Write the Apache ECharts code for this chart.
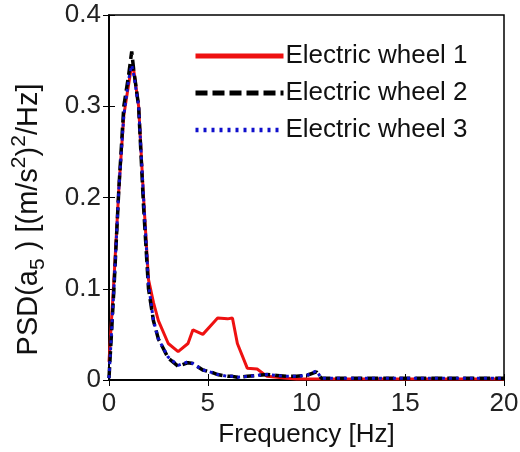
<!DOCTYPE html>
<html>
<head>
<meta charset="utf-8">
<script src="https://cdn.jsdelivr.net/npm/echarts@6/dist/echarts.min.js"></script>
<style>
  html, body { margin: 0; padding: 0; background: #fff; }
  #container { width: 520px; height: 452px; }
</style>
</head>
<body>
<div id="container"></div>
<script>
// frequency grid (Hz)
var freq = [0, 0.25, 0.5, 0.75, 1, 1.15, 1.25, 1.5, 1.75, 2, 2.25, 2.5, 3, 3.5, 4, 4.25, 4.75, 5.25, 5.5, 6, 6.25, 6.5, 7, 7.5, 8, 8.5, 9, 9.5, 10, 10.5, 10.75, 11, 12, 13, 14, 15, 16, 17, 18, 19, 20];

var wheel1 = [0.02, 0.11, 0.21, 0.29, 0.325, 0.345, 0.34, 0.30, 0.2, 0.11, 0.085, 0.065, 0.04, 0.031, 0.04, 0.055, 0.05, 0.062, 0.068, 0.067, 0.068, 0.04, 0.013, 0.012, 0.004, 0.003, 0.002, 0.001, 0.001, 0.001, 0.001, 0.001, 0.001, 0.001, 0.001, 0.001, 0.001, 0.001, 0.001, 0.001, 0.001];
var wheel2 = [0.002, 0.1, 0.21, 0.30, 0.335, 0.36, 0.34, 0.30, 0.19, 0.1, 0.065, 0.045, 0.024, 0.015, 0.019, 0.018, 0.011, 0.008, 0.006, 0.004, 0.004, 0.003, 0.004, 0.005, 0.006, 0.005, 0.004, 0.004, 0.005, 0.009, 0.002, 0.002, 0.002, 0.002, 0.002, 0.002, 0.002, 0.002, 0.002, 0.002, 0.002];
var wheel3 = [0.002, 0.1, 0.21, 0.29, 0.33, 0.345, 0.335, 0.30, 0.2, 0.105, 0.065, 0.045, 0.025, 0.016, 0.02, 0.018, 0.011, 0.008, 0.006, 0.004, 0.004, 0.003, 0.004, 0.005, 0.006, 0.005, 0.004, 0.004, 0.005, 0.01, 0.002, 0.002, 0.002, 0.002, 0.002, 0.002, 0.002, 0.002, 0.002, 0.002, 0.002];

var names = ['Electric wheel 1', 'Electric wheel 2', 'Electric wheel 3'];

function pairs(ys) {
  return freq.map(function (f, i) { return [f, ys[i]]; });
}

var font = 'Liberation Sans, Arial, sans-serif';
var dom = document.getElementById('container');
var myChart = echarts.init(dom);

var option = {
  animation: false,
  textStyle: { fontFamily: font },
  grid: {
    left: 109, right: 16, top: 15, bottom: 72,
    outerBoundsMode: 'none',
    show: true, borderColor: '#000', borderWidth: 1.5, backgroundColor: '#fff'
  },
  legend: {
    orient: 'vertical',
    left: 188, top: 38,
    itemWidth: 88, itemHeight: 28, itemGap: 11,
    itemStyle: { opacity: 0 },
    textStyle: { fontSize: 26, color: '#111', fontFamily: font, padding: [0, 0, 0, -3] },
    data: [
      { name: names[0], lineStyle: { color: '#ee1111', width: 5 } },
      { name: names[1], lineStyle: { color: '#000', width: 5, type: [12, 5] } },
      { name: names[2], lineStyle: { color: '#1010cc', width: 4.5, type: [3, 5] } }
    ]
  },
  xAxis: [{
    type: 'value', min: 0, max: 20, interval: 5,
    name: 'Frequency [Hz]', nameLocation: 'middle', nameGap: 42,
    nameTextStyle: { fontSize: 26, color: '#111' },
    axisLine: { show: true, lineStyle: { color: '#000', width: 1.5 } },
    axisTick: { inside: true, length: 6, lineStyle: { color: '#000' } },
    axisLabel: { fontSize: 26, color: '#222', margin: 11 },
    splitLine: { show: false }
  }, {
    type: 'value', min: 0, max: 20, interval: 5, position: 'top',
    axisLine: { show: true, lineStyle: { color: '#000', width: 1.5 } },
    axisTick: { inside: true, length: 6, lineStyle: { color: '#000' } },
    axisLabel: { show: false },
    splitLine: { show: false }
  }],
  yAxis: [{
    type: 'value', min: 0, max: 0.4, interval: 0.1,
    name: '{n|PSD(a}{sub|5}{n| ) [(m/s}{sup|2}{n|)}{sup|2}{n|/Hz]}',
    nameLocation: 'middle', nameRotate: 90, nameGap: 60,
    nameTextStyle: {
      padding: [0, 44, 0, 0],
      rich: {
        n: { fontSize: 29, color: '#111', fontFamily: font, lineHeight: 40, verticalAlign: 'middle' },
        sub: { fontSize: 21, color: '#111', fontFamily: font, lineHeight: 40, verticalAlign: 'bottom' },
        sup: { fontSize: 21, color: '#111', fontFamily: font, lineHeight: 40, verticalAlign: 'top' }
      }
    },
    axisLine: { show: true, lineStyle: { color: '#000', width: 1.5 } },
    axisTick: { inside: true, length: 6, lineStyle: { color: '#000' } },
    axisLabel: { fontSize: 26, color: '#222', margin: 8 },
    splitLine: { show: false }
  }, {
    type: 'value', min: 0, max: 0.4, interval: 0.1, position: 'right',
    axisLine: { show: true, lineStyle: { color: '#000', width: 1.5 } },
    axisTick: { inside: true, length: 6, lineStyle: { color: '#000' } },
    axisLabel: { show: false },
    splitLine: { show: false }
  }],
  series: [
    {
      name: names[0], type: 'line', symbol: 'none', data: pairs(wheel1),
      color: '#ee1111',
      lineStyle: { color: '#ee1111', width: 3 }
    },
    {
      name: names[1], type: 'line', symbol: 'none', data: pairs(wheel2),
      color: '#000',
      lineStyle: { color: '#000', width: 3.5, type: [11, 5] }
    },
    {
      name: names[2], type: 'line', symbol: 'none', data: pairs(wheel3),
      color: '#1010cc',
      lineStyle: { color: '#1010cc', width: 3, type: [3, 4] }
    }
  ]
};

myChart.setOption(option, true);
</script>
</body>
</html>
